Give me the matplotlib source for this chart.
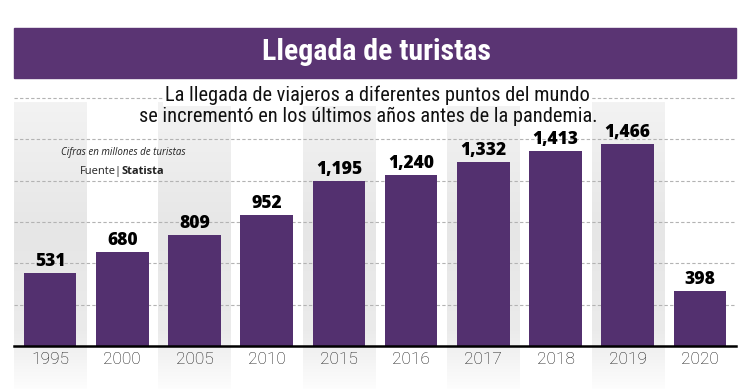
import numpy as np
import matplotlib.pyplot as plt
from matplotlib.colors import LinearSegmentedColormap
from matplotlib.patches import Rectangle

# datos
anios = ["1995", "2000", "2005", "2010", "2015", "2016", "2017", "2018", "2019", "2020"]
llegadas = [531, 680, 809, 952, 1195, 1240, 1332, 1413, 1466, 398]
etiquetas = ["531", "680", "809", "952", "1,195", "1,240", "1,332", "1,413", "1,466", "398"]
columnas_grises = [0, 2, 4, 6, 8]
lineas_guia = [300, 600, 900, 1200, 1500, 1800]

morado = "#53306f"
estrecha = ["Roboto Condensed", "Roboto"]

fig = plt.figure(figsize=(7.5, 3.89), dpi=100)
W, H = 750, 389

# eje principal : linea base a y=346 px, borde superior a y=98 px
ax = fig.add_axes([14 / W, 43 / H, 722 / W, 248 / H])
ax.set_axis_off()

# columnas grises con degradado
unidades_px = 1800 / 248
y_abajo = -43 * unidades_px
y_arriba = (346 - 102) * unidades_px
cmap_gris = LinearSegmentedColormap.from_list(
    "gris", [(0, "#fdfdfd"), (0.2, "#ebebeb"), (0.55, "#e6e6e6"), (1, "#f3f3f3")])
degradado = np.linspace(0, 1, 256).reshape(-1, 1)
for i in columnas_grises:
    ax.imshow(degradado, extent=(i - 0.5, i + 0.5, y_abajo, y_arriba), origin="lower",
              cmap=cmap_gris, aspect="auto", clip_on=False, zorder=0, vmin=0, vmax=1)

# lineas guia punteadas
for g in lineas_guia:
    ax.axhline(g, color="#b3b3b3", lw=0.8, dashes=(3, 2), zorder=1, clip_on=False)

# barras
x = np.arange(len(anios))
ax.bar(x, llegadas, width=0.73, color=morado, zorder=2)
for xi, v, t in zip(x, llegadas, etiquetas):
    ax.text(xi, v + 22, t, ha="center", va="bottom", fontsize=12.5, fontweight=800,
            family="Open Sans", color="black", zorder=4)

ax.axhline(0, color="black", lw=1.8, zorder=3, clip_on=False)
ax.set_xlim(-0.5, 9.5)
ax.set_ylim(0, 1800)

for xi, a in zip(x, anios):
    ax.text(xi, -100, a, ha="center", va="center", fontsize=12.5, family="Roboto",
            fontweight="light", color="#1a1a1a", zorder=4)

# banda del titulo
fig.patches.append(Rectangle((14 / W, (H - 78) / H), 722 / W, 50 / H,
                             transform=fig.transFigure, color="#5a3473", zorder=0))
fig.text(376 / W, 1 - 52 / H, "Llegada de turistas", ha="center", va="center",
         color="white", fontsize=21.5, fontweight="bold", family=estrecha)

# subtitulo
fig.text(377 / W, 1 - 95 / H, "La llegada de viajeros a diferentes puntos del mundo",
         ha="center", va="center", fontsize=14.7, family=estrecha,
         color="#111111", bbox=dict(facecolor="white", edgecolor="none", pad=1))
fig.text(368 / W, 1 - 116 / H, "se incrementó en los últimos años antes de la pandemia.",
         ha="center", va="center", fontsize=14.7, family=estrecha,
         color="#111111")

# notas
fig.text(123 / W, 1 - 153 / H, "Cifras en millones de turistas", ha="center", va="center",
         fontsize=7, style="italic", family="Open Sans", color="#222222")
fig.text(122 / W, 1 - 172 / H, "Fuente|", ha="right", va="center",
         fontsize=8, family="Open Sans", color="#222222")
fig.text(121 / W, 1 - 172 / H, "Statista", ha="left", va="center",
         fontsize=8, fontweight="bold", family="Open Sans", color="#222222")

fig.savefig("out.png", dpi=100, facecolor="white")
